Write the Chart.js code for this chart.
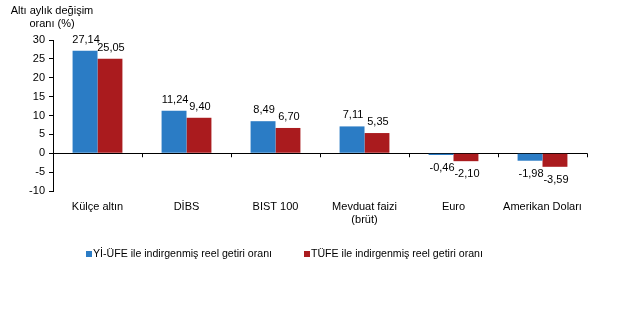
<!DOCTYPE html>
<html><head><meta charset="utf-8">
<script src="https://cdn.jsdelivr.net/npm/chart.js@4"></script>
<style>html,body{margin:0;padding:0;background:#fff}#w{position:relative;width:632px;height:313px}</style>
</head><body><div id="w"><canvas id="c"></canvas></div>
<script>
const categories = ["Külçe altın", "DİBS", "BIST 100", ["Mevduat faizi", "(brüt)"], "Euro", "Amerikan Doları"];
const yiUfe = [27.14, 11.24, 8.49, 7.11, -0.46, -1.98];
const tufe = [25.05, 9.40, 6.70, 5.35, -2.10, -3.59];
const seriesNames = ["Yİ-ÜFE ile indirgenmiş reel getiri oranı", "TÜFE ile indirgenmiş reel getiri oranı"];
const yTitle = ["Altı aylık değişim", "oranı (%)"];
const yMin = -10, yMax = 30, yStep = 5;

const FONT = "Arial, 'Liberation Sans', sans-serif";
const BLUE = "#2b7cc5", RED = "#aa1b1e";

const fmt = v => v.toFixed(2).replace('.', ',');

const extras = {
  id: 'extras',
  afterDatasetsDraw(chart) {
    const ctx = chart.ctx, xs = chart.scales.x, ys = chart.scales.y;
    ctx.save();
    const y0 = ys.getPixelForValue(0);
    const n = categories.length;
    const step = (xs.right - xs.left) / n;
    ctx.strokeStyle = '#000'; ctx.lineWidth = 1;
    for (let i = 1; i <= n; i++) {
      const x = Math.round(xs.left + i * step) + 0.5;
      ctx.beginPath(); ctx.moveTo(x, y0); ctx.lineTo(x, y0 + 4); ctx.stroke();
    }
    ctx.font = "11px " + FONT; ctx.fillStyle = '#000';
    ctx.textAlign = 'center'; ctx.textBaseline = 'middle';
    chart.data.datasets.forEach((ds, di) => {
      chart.getDatasetMeta(di).data.forEach((el, i) => {
        const v = ds.data[i];
        const y = v >= 0 ? el.y - 11 : el.y + 13;
        ctx.fillText(fmt(v), el.x + 1, y);
      });
    });
    ctx.fillText(yTitle[0], 52, 11);
    ctx.fillText(yTitle[1], 52, 24);
    const items = [[86, BLUE, seriesNames[0]], [304, RED, seriesNames[1]]];
    ctx.textAlign = 'left';
    ctx.font = "10.6px " + FONT;
    items.forEach(([x, c, t]) => {
      ctx.fillStyle = c; ctx.fillRect(x, 251, 6, 6);
      ctx.fillStyle = '#000'; ctx.fillText(t, x + 7, 254);
    });
    ctx.restore();
  }
};

new Chart(document.getElementById('c'), {
  type: 'bar',
  data: {
    labels: categories,
    datasets: [
      { label: seriesNames[0], data: yiUfe, backgroundColor: BLUE },
      { label: seriesNames[1], data: tufe, backgroundColor: RED }
    ]
  },
  options: {
    responsive: true, maintainAspectRatio: false, animation: false,
    layout: { padding: { left: 0, right: 45, top: 40, bottom: 82 } },
    plugins: { legend: { display: false }, tooltip: { enabled: false } },
    datasets: { bar: { categoryPercentage: 0.56, barPercentage: 1.0 } },
    scales: {
      x: {
        grid: { display: false, drawTicks: false },
        border: { display: false },
        ticks: { color: '#000', font: { family: FONT, size: 11 }, padding: 9, maxRotation: 0, autoSkip: false },
        afterFit(s) { s.height = 40; }
      },
      y: {
        min: yMin, max: yMax,
        ticks: { stepSize: yStep, color: '#000', font: { family: FONT, size: 11 }, padding: 4 },
        grid: { color: c => c.tick && c.tick.value === 0 ? '#000' : 'rgba(0,0,0,0)', tickColor: '#000', tickLength: 4, drawOnChartArea: true },
        border: { display: true, color: '#000' },
        afterFit(s) { s.width = 53; }
      }
    }
  },
  plugins: [extras]
});
</script></body></html>
